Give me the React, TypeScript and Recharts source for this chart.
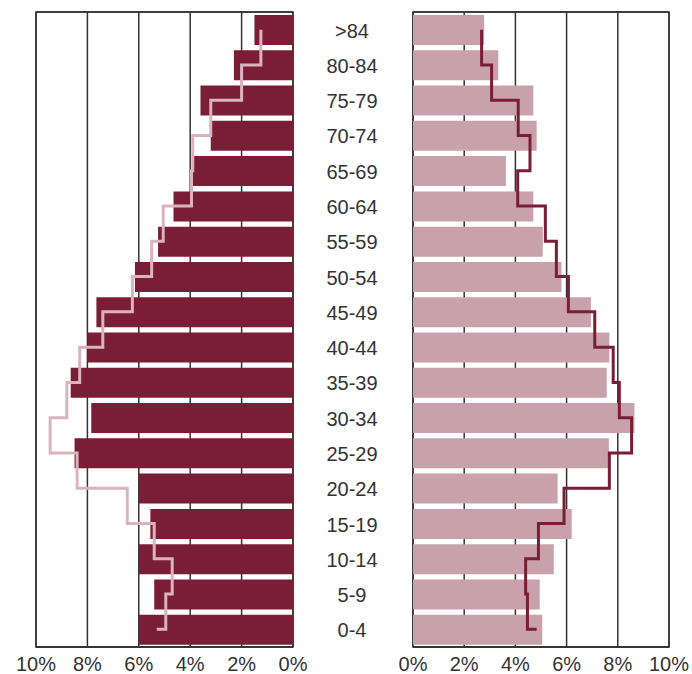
import React from 'react';
import {
  ComposedChart,
  Bar,
  Line,
  XAxis,
  YAxis,
  CartesianGrid,
  ReferenceArea,
} from 'recharts';

const ages = ['0-4', '5-9', '10-14', '15-19', '20-24', '25-29', '30-34', '35-39', '40-44', '45-49', '50-54', '55-59', '60-64', '65-69', '70-74', '75-79', '80-84', '>84'];
const male = [6.0, 5.4, 6.0, 5.55, 6.0, 8.5, 7.85, 8.65, 8.0, 7.65, 6.15, 5.25, 4.65, 3.9, 3.2, 3.6, 2.3, 1.5];
const maleRef = [5.3, 4.95, 4.7, 5.4, 6.45, 8.4, 9.45, 8.8, 8.3, 7.4, 6.25, 5.5, 5.05, 3.95, 3.9, 3.2, 2.0, 1.25];
const female = [5.05, 4.95, 5.5, 6.2, 5.65, 7.65, 8.65, 7.57, 7.67, 6.95, 5.8, 5.07, 4.7, 3.63, 4.83, 4.7, 3.33, 2.78];
const femaleRef = [4.83, 4.47, 4.4, 4.9, 5.9, 7.67, 8.54, 8.06, 7.82, 7.1, 6.07, 5.6, 5.17, 4.09, 4.57, 4.11, 3.07, 2.68];
const pctTicks = [0, 2, 4, 6, 8, 10];

const data = ages.map((age, i) => ({
  age,
  male: male[i],
  maleRef: maleRef[i],
  female: female[i],
  femaleRef: femaleRef[i],
}));

const DARK = '#7A1E35';
const PINK = '#C9A1AD';
const LIGHT_LINE = '#DBB3BE';
const GRID = '#333333';
const FONT = '"Liberation Sans", Arial, sans-serif';

const fmt = (v: number) => `${v}%`;

const borderGen = ({ offset }: any) => [offset.top, offset.top + offset.height];

const AgeTick = (props: any) => {
  const { x, y, payload } = props;
  return (
    <text
      x={x}
      y={y}
      dx={-53}
      dy="0.4em"
      textAnchor="middle"
      fill="#333"
      fontSize={20}
      fontFamily={FONT}
    >
      {payload.value}
    </text>
  );
};

const tickStyle = { fill: '#333', fontSize: 20, fontFamily: FONT };

export default function App() {
  return (
    <div style={{ position: 'absolute', left: 0, top: 0, width: 692, height: 674, background: '#fff' }}>
      <div style={{ position: 'absolute', left: 0, top: 0 }}>
        <ComposedChart
          width={312}
          height={674}
          data={data}
          layout="vertical"
          margin={{ top: 12, right: 19, bottom: 0, left: 36 }}
          barCategoryGap={0}
        >
          <CartesianGrid
            vertical
            horizontal
            stroke={GRID}
            strokeWidth={1.5}
            horizontalCoordinatesGenerator={borderGen}
          />
          <XAxis
            type="number"
            domain={[0, 10]}
            ticks={pctTicks}
            reversed
            tickFormatter={fmt}
            tickLine={false}
            tickMargin={4}
            height={27}
            axisLine={{ stroke: GRID, strokeWidth: 1.5 }}
            tick={tickStyle}
            interval={0}
            allowDataOverflow
          />
          <YAxis type="category" dataKey="age" reversed hide width={0} />
          <Bar dataKey="male" fill={DARK} barSize={30} isAnimationActive={false} />
          <Line
            dataKey="maleRef"
            type="stepAfter"
            stroke={LIGHT_LINE}
            strokeWidth={3}
            dot={false}
            activeDot={false}
            isAnimationActive={false}
          />
          <ReferenceArea x1={0} x2={10} fill="none" stroke={GRID} strokeWidth={1.5} fillOpacity={0} />
        </ComposedChart>
      </div>
      <div style={{ position: 'absolute', left: 312, top: 0 }}>
        <ComposedChart
          width={380}
          height={674}
          data={data}
          layout="vertical"
          margin={{ top: 12, right: 23, bottom: 0, left: 0 }}
          barCategoryGap={0}
        >
          <CartesianGrid
            vertical
            horizontal
            stroke={GRID}
            strokeWidth={1.5}
            horizontalCoordinatesGenerator={borderGen}
          />
          <XAxis
            type="number"
            domain={[0, 10]}
            ticks={pctTicks}
            tickFormatter={fmt}
            tickLine={false}
            tickMargin={4}
            height={27}
            axisLine={{ stroke: GRID, strokeWidth: 1.5 }}
            tick={tickStyle}
            interval={0}
            allowDataOverflow
          />
          <YAxis
            type="category"
            dataKey="age"
            reversed
            width={101}
            axisLine={false}
            tickLine={false}
            tick={<AgeTick />}
            interval={0}
          />
          <Bar dataKey="female" fill={PINK} barSize={30} isAnimationActive={false} />
          <Line
            dataKey="femaleRef"
            type="stepAfter"
            stroke={DARK}
            strokeWidth={3}
            dot={false}
            activeDot={false}
            isAnimationActive={false}
          />
          <ReferenceArea x1={0} x2={10} fill="none" stroke={GRID} strokeWidth={1.5} fillOpacity={0} />
        </ComposedChart>
      </div>
    </div>
  );
}
